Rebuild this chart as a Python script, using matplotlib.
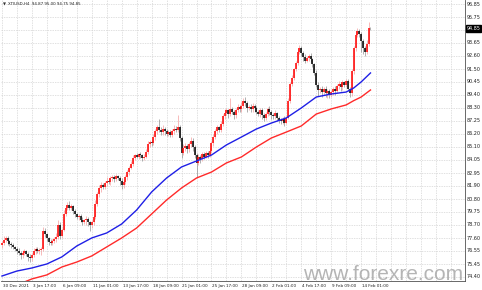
import matplotlib.pyplot as plt
import numpy as np

# XTIUSD H4 candles, close of every bar (open = previous close)
cierres = [77.2, 77.45, 77.6, 77.35, 77.1, 77.0, 76.85, 76.7, 76.55, 76.4,
           76.2, 76.35, 76.5, 76.3, 76.05, 75.95, 76.2, 76.5, 76.7, 76.55,
           76.6, 76.7, 78.2, 77.9, 77.6, 77.3, 77.2, 77.4, 77.5, 77.7,
           78.7, 77.8, 78.3, 79.6, 80.1, 80.35, 80.1, 80.2, 79.8, 79.6,
           79.35, 79.4, 79.1, 78.95, 79.1, 79.2, 78.9, 78.7, 78.9, 79.3,
           80.4, 81.2, 81.7, 82.0, 81.8, 82.1, 82.3, 82.2, 82.5, 82.6,
           82.45, 82.7, 82.55, 82.3, 81.95, 82.2, 82.6, 83.0, 83.4, 83.7,
           84.2, 84.4, 84.3, 84.5, 84.4, 84.2, 84.3, 84.7, 85.3, 85.5,
           85.4, 85.9, 86.4, 86.7, 86.5, 86.3, 86.6, 86.4, 86.2, 86.3,
           86.1, 86.4, 86.6, 86.5, 86.7, 85.8, 84.6, 85.0, 85.2, 84.9,
           85.3, 85.6, 85.1, 84.4, 83.8, 84.3, 84.1, 84.5, 84.3, 84.6,
           84.4, 84.8, 85.4, 85.9, 86.4, 86.7, 86.5, 87.0, 87.6, 87.9,
           88.1, 87.8, 88.2, 88.0, 87.7, 88.1, 88.4, 88.2, 88.5, 88.9,
           88.7, 88.3, 88.4, 88.2, 88.5, 88.3, 88.0, 87.8, 88.1, 87.7,
           87.5, 87.8, 88.2, 88.0, 87.7, 87.6, 87.9, 87.5, 87.3, 87.2,
           87.4, 87.1, 87.5, 88.9, 90.3, 90.8, 91.5, 92.0, 92.9, 93.2,
           92.8, 92.5, 92.2, 92.4, 92.6, 92.3, 91.9, 91.2, 90.2, 89.8,
           89.9, 89.6, 89.9, 89.5, 89.7, 89.4, 89.6, 89.9, 89.7, 90.1,
           90.3, 90.0, 90.4, 90.2, 90.5, 89.9, 89.5, 91.3, 93.2, 94.3,
           94.6, 94.4, 93.8, 93.2, 92.9, 93.6, 94.9, 94.85]
apertura_inicial = 77.0

# mecha superior / inferior de cada vela
mecha_sup = [.2, .3, .15, .2, .1, .15, .2, .1, .15, .2,
             .15, .3, .2, .1, .15, .25, .2, .3, .2, .15,
             .2, .15, .3, .2, .15, .1, .2, .15, .2, .3,
             .4, .2, .15, .3, .2, .25, .3, .2, .15, .2,
             .1, .2, .15, .2, .1, .2, .15, .1, .2, .2,
             .3, .2, .25, .2, .15, .2, .3, .15, .2, .2,
             .15, .2, .1, .15, .2, .15, .2, .2, .15, .2,
             .2, .15, .2, .1, .2, .15, .2, .2, .25, .2,
             .15, .3, .2, .2, .7, .2, .3, .15, .2, .15,
             .2, .15, .3, .2, 1.0, .2, .2, .3, .2, .15,
             .2, .3, .2, .15, .2, .2, .15, .2, .15, .2,
             .15, .2, .2, .3, .2, .2, .15, .2, .2, .3,
             .2, .15, .9, .2, .15, .2, .2, .15, .3, .2,
             .3, .2, .15, .2, .2, .15, .2, .15, .2, .2,
             .15, .2, .2, .3, .15, .2, .2, .1, .15, .2,
             .15, .2, .1, .2, .15, .2, .1, .2, .3, .3,
             .2, .15, .2, .2, .15, .2, .15, .1, .2, .2,
             .15, .2, .1, .2, .15, .2, .2, .15, .2, .2,
             .2, .15, .2, .15, .2, .15, .1, .2, .2, .3,
             .3, .2, .15, .2, .2, .3, .45, .1]
mecha_inf = [.2, .15, .2, .3, .15, .2, .15, .2, .3, .2,
             .3, .2, .15, .2, .3, .35, .2, .15, .2, .2,
             .3, .4, .15, .2, .2, .3, .2, .15, .2, .2,
             .2, .3, .2, .15, .2, .2, .15, .2, .2, .3,
             .2, .3, .2, .3, .2, .4, .3, .5, .3, .2,
             .15, .2, .2, .3, .2, .15, .2, .15, .2, .2,
             .2, .15, .2, .3, .3, .2, .15, .2, .2, .15,
             .2, .2, .15, .2, .2, .3, .2, .15, .2, .2,
             .2, .15, .2, .2, .15, .2, .2, .3, .2, .2,
             .2, .15, .2, .2, .15, .2, .4, .2, .2, .3,
             .2, .2, .3, .2, 1.2, .2, .3, .2, .2, .15,
             .2, .15, .2, .2, .15, .2, .2, .15, .2, .2,
             .2, .3, .2, .2, .3, .2, .15, .2, .2, .2,
             .2, .3, .2, .2, .2, .3, .2, .2, .25, .3,
             .3, .2, .2, .3, .3, .2, .2, .3, .2, .2,
             .2, .3, .15, .1, .15, .2, .2, .15, .2, .2,
             .2, .3, .2, .15, .2, .2, .2, .2, .2, .5,
             .3, .4, .2, .3, .4, .3, .2, .2, .3, .2,
             .2, .3, .2, .2, .2, .2, .3, .2, .2, .2,
             .2, .3, .9, .5, .3, .2, .2, .15]

# medias moviles (leidas cada 8 velas)
ma_barras = [0, 8, 16, 24, 32, 40, 48, 56, 64, 72, 80, 88, 96, 104, 112,
             120, 128, 136, 144, 152, 160, 168, 176, 184, 188, 192, 197]
ma_azul = [74.48, 74.89, 75.14, 75.47, 76.05, 76.95, 77.61, 78.02, 78.76,
           79.91, 81.39, 82.54, 83.45, 83.94, 84.43, 85.26, 85.91, 86.57,
           87.06, 87.48, 88.30, 89.20, 89.45, 89.61, 89.94, 90.44, 91.18]
ma_roja = [73.33, 73.74, 74.24, 74.57, 75.22, 75.63, 76.13, 76.87, 77.61,
           78.43, 79.58, 80.73, 81.72, 82.54, 83.03, 83.78, 84.27, 85.09,
           85.83, 86.32, 86.82, 87.80, 88.22, 88.55, 88.90, 89.20, 89.78]

precios_eje = [96.85, 95.75, 93.65, 92.60, 91.50, 90.45, 89.40, 88.30, 87.25,
               86.20, 85.10, 84.05, 82.95, 81.90, 80.80, 79.75, 78.70, 77.60,
               76.55, 75.45, 74.40]
precio_actual = 94.85
fechas = ['30 Dec 2021', '3 Jan 17:00', '6 Jan 09:00', '11 Jan 01:00',
          '13 Jan 17:00', '18 Jan 09:00', '21 Jan 01:00', '25 Jan 17:00',
          '28 Jan 09:00', '2 Feb 01:00', '4 Feb 17:00', '9 Feb 09:00',
          '14 Feb 01:00']
titulo = 'XTIUSD,H4  94.87 95.00 94.75 94.85'

cierres = np.array(cierres)
aperturas = np.concatenate([[apertura_inicial], cierres[:-1]])
altos = np.maximum(aperturas, cierres) + np.array(mecha_sup)
bajos = np.minimum(aperturas, cierres) - np.array(mecha_inf)
x = np.arange(len(cierres))
sube = cierres >= aperturas

fig = plt.figure(figsize=(4.82, 2.90), dpi=100)
ax = fig.add_axes([0.002, 9 / 290, 464 / 482, 281 / 290])

# grilla punteada
for p in precios_eje + [94.70]:
    ax.axhline(p, color='#d4d4d4', linewidth=0.5, linestyle=(0, (2, 1.5)), zorder=0)
for xv in np.arange(0, 248, 8):
    ax.axvline(xv, color='#d4d4d4', linewidth=0.5, linestyle=(0, (2, 1.5)), zorder=0)

# velas
colores = np.where(sube, '#ff0000', '#000000')
ax.vlines(x, bajos, altos, colors=np.where(sube, '#f4a0a0', '#909090'), linewidth=0.5, zorder=2)
cuerpo_bajo = np.minimum(aperturas, cierres)
cuerpo_alto = np.maximum(aperturas, cierres)
cuerpo_alto = np.maximum(cuerpo_alto, cuerpo_bajo + 0.04)
ax.vlines(x, cuerpo_bajo, cuerpo_alto, colors=colores, linewidth=1.1, zorder=3)

ax.plot(ma_barras, ma_azul, color='#1f1fe6', linewidth=1.0, zorder=4)
ax.plot(ma_barras, ma_roja, color='#ff2a2a', linewidth=1.0, zorder=4)

ax.set_xlim(-0.53, 247.5)
ax.set_ylim(74.07, 97.18)
ax.set_xticks([])
ax.set_yticks([])
for lado in ['top', 'left']:
    ax.spines[lado].set_visible(False)
ax.spines['right'].set_color('#505050')
ax.spines['bottom'].set_color('#505050')
ax.spines['right'].set_linewidth(0.6)
ax.spines['bottom'].set_linewidth(0.6)

# etiquetas de precio
for p in precios_eje:
    ax.text(1.004, p, f'{p:.2f}', transform=ax.get_yaxis_transform(),
            fontsize=3.5, va='center', ha='left', color='#202020', clip_on=False)
ax.text(1.004, precio_actual, f'{precio_actual:.2f}', transform=ax.get_yaxis_transform(),
        fontsize=3.5, va='center', ha='left', color='white', clip_on=False,
        bbox=dict(boxstyle='square,pad=0.15', facecolor='black', edgecolor='black'))

# etiquetas de fecha
for i, f in enumerate(fechas):
    ax.text(i * 16 + 0.5, -0.012, f, transform=ax.get_xaxis_transform(),
            fontsize=3.0, va='top', ha='left', color='#202020', clip_on=False)

ax.text(0.004, 0.992, '\u25bc', transform=ax.transAxes, fontsize=2.8, va='top', ha='left', color='#303030')
ax.text(0.015, 0.994, titulo, transform=ax.transAxes, fontsize=2.9, va='top', ha='left', color='#202020')

# marca de agua
fig.text(463 / 482, 10 / 290, 'www.forexre.com', fontsize=15, family='Liberation Sans',
         color='#a8a8a8', alpha=0.85, ha='right', va='baseline', zorder=10)

plt.savefig('out.png', dpi=100)
